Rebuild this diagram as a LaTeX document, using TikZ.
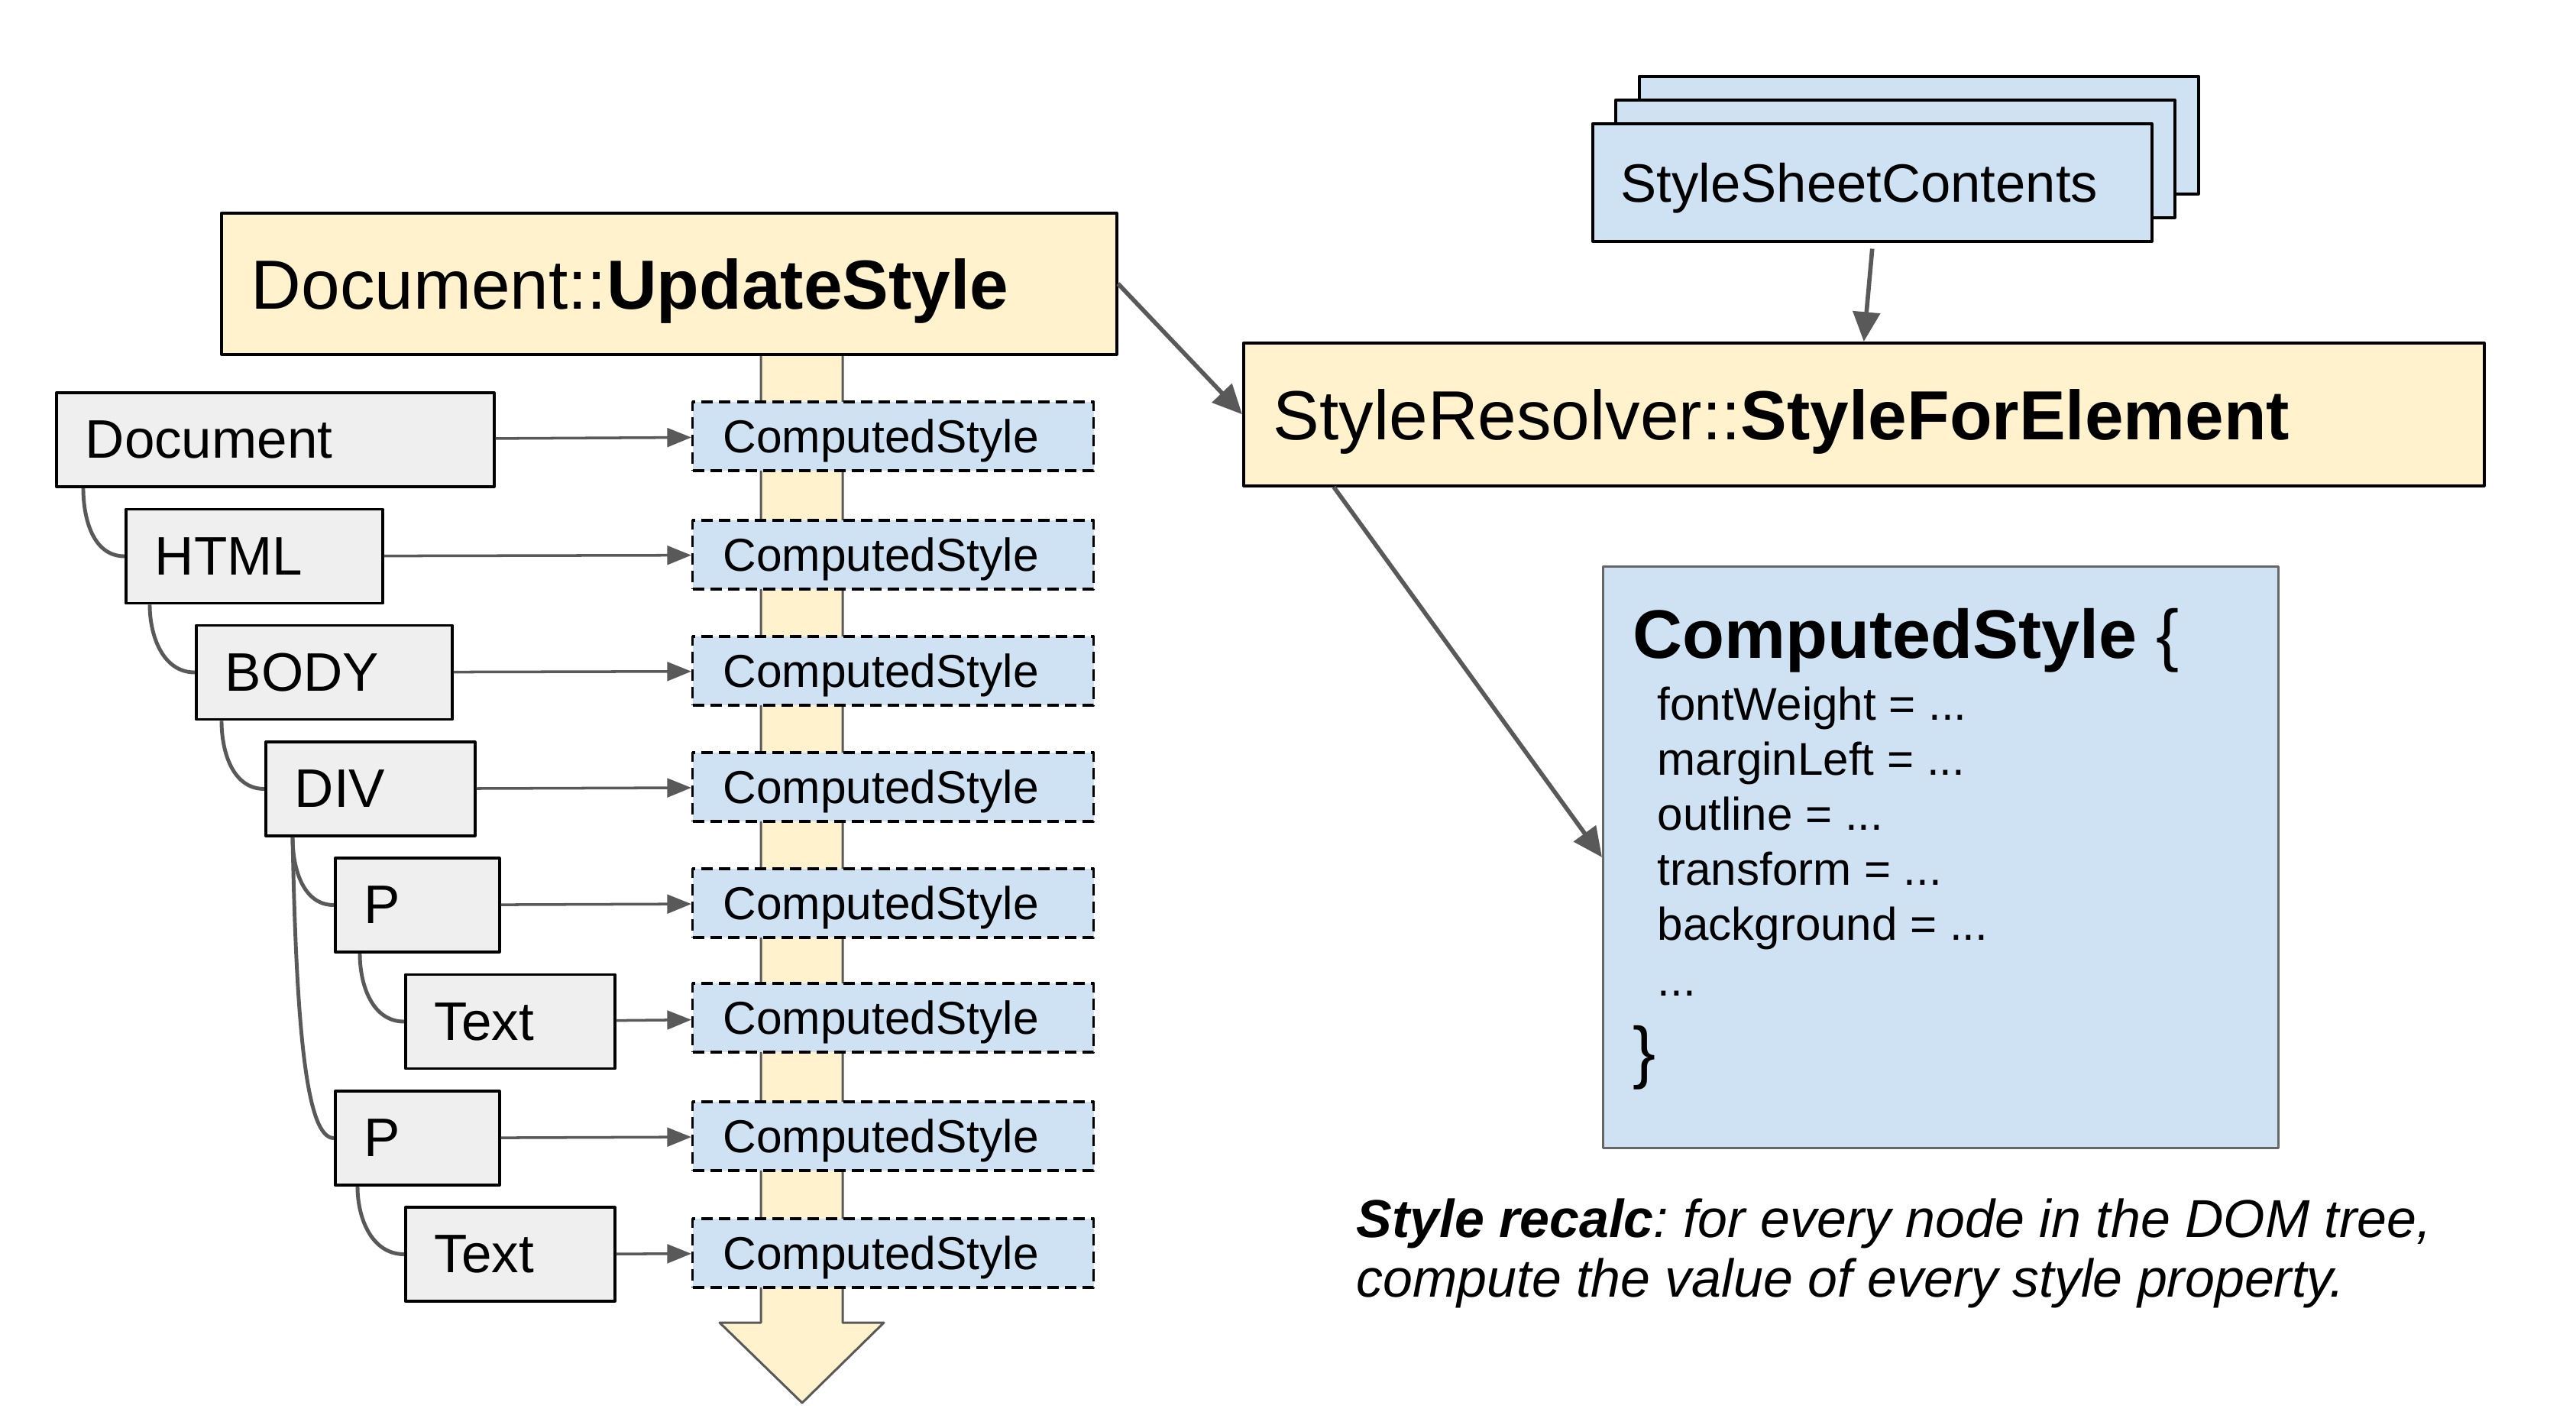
\documentclass[tikz,border=0pt]{standalone}
\usepackage{fontspec}
\setmainfont{Liberation Sans}
\usetikzlibrary{arrows.meta}
\frenchspacing
\definecolor{lineGrey}{HTML}{595959}
\definecolor{boxYellow}{HTML}{FFF2CC}
\definecolor{boxBlue}{HTML}{CFE2F3}
\definecolor{boxGrey}{HTML}{EFEFEF}
\definecolor{boxEdge}{HTML}{666666}
\tikzset{
  treebox/.style={draw=black, fill=boxGrey, line width=1pt, anchor=west, minimum height=1.23cm,
    inner xsep=0.38cm, inner ysep=0pt, align=left, font=\fontsize{20.2}{24}\selectfont},
  cstyle/.style={draw=black, fill=boxBlue, line width=0.95pt, dash pattern=on 4.3pt off 2.3pt,
    anchor=west, minimum height=0.9cm, text width=4.45cm, inner xsep=0.4cm, inner ysep=0pt,
    text depth=0pt, align=left, font=\fontsize{17.2}{20}\selectfont},
  callbox/.style={draw=black, fill=boxYellow, line width=1pt, anchor=north west, inner xsep=0.39cm,
    inner ysep=0pt, text depth=0pt, align=left, font=\fontsize{25.9}{31}\selectfont},
  sheetbox/.style={draw=black, fill=boxBlue, line width=1pt, anchor=north west, minimum height=1.54cm,
    text width=6.58cm, inner xsep=0.37cm, inner ysep=0pt, text depth=0pt, align=left,
    font=\fontsize{20.1}{24}\selectfont},
  conn/.style={draw=lineGrey, line width=1pt, -{Triangle[length=9pt,width=7pt]}},
  bigarrow/.style={draw=lineGrey, line width=1.6pt, -{Triangle[length=11pt,width=10pt]}},
  treeline/.style={draw=lineGrey, line width=1.4pt},
  prop/.style={anchor=base west, inner sep=0pt, font=\fontsize{17.1}{20}\selectfont},
  recalc/.style={anchor=base west, inner sep=0pt, font=\fontsize{19.9}{23}\selectfont\itshape}
}
\begin{document}
\begin{tikzpicture}[line join=round]
\useasboundingbox (0,0) rectangle (33.72,-18.64);

% the walk down the tree
\draw[draw=lineGrey, line width=0.85pt, fill=boxYellow] (9.96,-4.5) -- (9.96,-17.31) -- (9.42,-17.31)
  -- (10.50,-18.36) -- (11.57,-17.31) -- (11.03,-17.31) -- (11.03,-4.5);

\node[callbox, text width=10.94cm, minimum height=1.85cm] (update) at (2.88,-2.77) {Document::\textbf{UpdateStyle}};

% DOM tree
\node[treebox, text width=4.97cm] (document) at (0.72,-5.755) {Document};
\node[treebox, text width=2.60cm] (html) at (1.63,-7.28) {HTML};
\node[treebox, text width=2.59cm] (body) at (2.55,-8.80) {BODY};
\node[treebox, text width=1.98cm] (div) at (3.46,-10.325) {DIV};
\node[treebox, text width=1.39cm] (p1) at (4.37,-11.845) {P};
\node[treebox, text width=1.98cm] (text1) at (5.29,-13.37) {Text};
\node[treebox, text width=1.39cm] (p2) at (4.37,-14.895) {P};
\node[treebox, text width=1.98cm] (text2) at (5.29,-16.415) {Text};

\draw[treeline] ([xshift=0.37cm]document.south west) to[out=-90,in=180] (html.west);
\draw[treeline] ([xshift=0.33cm]html.south west) to[out=-90,in=180] (body.west);
\draw[treeline] ([xshift=0.35cm]body.south west) to[out=-90,in=180] (div.west);
\draw[treeline] ([xshift=0.37cm]div.south west) to[out=-90,in=180] (p1.west);
\draw[treeline] ([xshift=0.37cm]div.south west) .. controls +(0.05,-2.6) and +(-0.35,0) .. (p2.west);
\draw[treeline] ([xshift=0.34cm]p1.south west) to[out=-90,in=180] (text1.west);
\draw[treeline] ([xshift=0.31cm]p2.south west) to[out=-90,in=180] (text2.west);

\foreach \src/\y in {document/-5.71,html/-7.26,body/-8.78,div/-10.30,p1/-11.82,text1/-13.32,p2/-14.87,text2/-16.40}{
  \node[cstyle] (cs\src) at (9.05,\y) {ComputedStyle};
  \draw[conn] (\src) -- (cs\src);
}

% style sheets and resolver
\node[sheetbox] (sheetc) at (21.44,-0.98) {};
\node[sheetbox] (sheetb) at (21.13,-1.29) {};
\node[sheetbox] (sheet) at (20.83,-1.60) {StyleSheetContents};

\node[callbox, text width=15.46cm, minimum height=1.87cm] (resolver) at (16.26,-4.47) {StyleResolver::\textbf{StyleForElement}};

\draw[bigarrow] ([yshift=-0.08cm]sheet.south) -- (resolver.north);
\draw[bigarrow] (update.east) -- (resolver.west);

% result
\node[draw=boxEdge, fill=boxBlue, line width=0.85pt, minimum width=8.84cm, minimum height=7.61cm,
  anchor=north west] (csbig) at (20.97,-7.40) {};
\draw[bigarrow] ([xshift=1.2cm]resolver.south west) -- (csbig.west);

\node[anchor=base west, inner sep=0pt, font=\fontsize{25.6}{30}\selectfont] (cstitle) at (21.37,-8.61) {\textbf{ComputedStyle} \{};
\foreach \p [count=\i] in {fontWeight,marginLeft,outline,transform,background}
  \node[prop] (prop\i) at (21.69,{-9.42-0.722*(\i-1)}) {\p{} = ...};
\node[prop] (propmore) at (21.69,-13.03) {...};
\node[anchor=base west, inner sep=0pt, font=\fontsize{25.6}{30}\selectfont] (csclose) at (21.37,-14.07) {\}};

\node[recalc] (note1) at (17.75,-16.19) {\textbf{Style recalc}: for every node in the DOM tree,};
\node[recalc] (note2) at (17.75,-16.97) {compute the value of every style property.};
\end{tikzpicture}
\end{document}
